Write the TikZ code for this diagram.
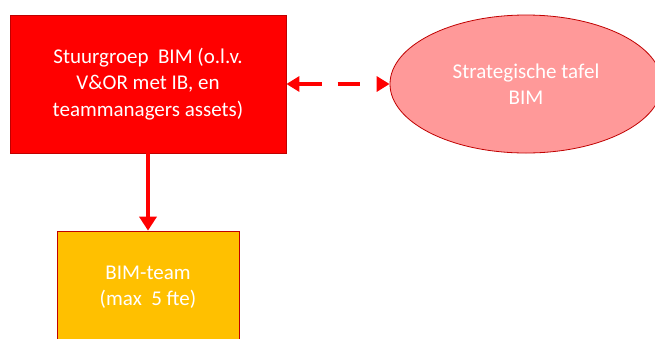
\documentclass[tikz,border=0pt]{standalone}
\usepackage{fontspec}
\setmainfont{Carlito}
\usetikzlibrary{shapes.geometric,arrows.meta}
\definecolor{bimred}{HTML}{FF0000}
\definecolor{bimrose}{HTML}{FF9999}
\definecolor{bimgold}{HTML}{FFC000}
\definecolor{bimrim}{HTML}{C00000}
\tikzset{
	orgbox/.style={draw=bimrim, line width=0.8pt, text=white, align=center, font=\fontsize{21}{26.5}\selectfont},
	orglink/.style={draw=bimred, line width=4pt, -{Triangle[length=14pt,width=17pt]}},
	sidetip/.style={{Triangle[length=13pt,width=15pt]}-{Triangle[length=13pt,width=15pt]}}
}

\begin{document}
\begin{tikzpicture}[x=1pt, y=-1pt]
			%%%%% START %%%%%
			
			\useasboundingbox (0, 0) rectangle (655, 338);
			
			\node[orgbox, fill=bimred, minimum width=276pt, minimum height=138pt] (stuurgroep) at (148, 84) {Stuurgroep~ BIM (o.l.v.\\ V\&OR met IB, en\\ teammanagers assets)};
			
			\node[orgbox, ellipse, fill=bimrose, minimum width=272pt, minimum height=138pt] (tafel) at (526, 84) {Strategische tafel\\ BIM};
			
			\node[orgbox, fill=bimgold, minimum width=182pt, minimum height=112pt] (team) at (148, 287) {BIM-team\\ (max~ 5 fte)};
			
			\draw[orglink] (stuurgroep.south) -- (team.north);
			\draw[orglink, sidetip, dash pattern=on 23pt off 16pt on 22pt off 20pt] (stuurgroep.east) -- (tafel.west);
			
			%%%%% END %%%%%
\end{tikzpicture}
\end{document}
